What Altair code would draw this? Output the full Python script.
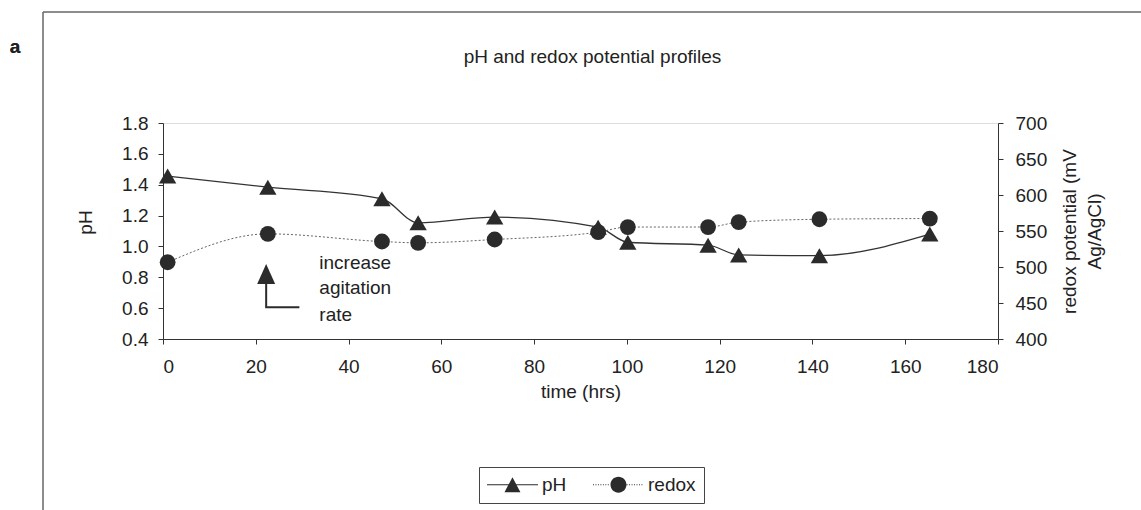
import altair as alt
import pandas as pd

# ---------------- data ----------------
time_hrs = [1.0, 22.6, 47.2, 55.0, 71.5, 93.8, 100.2, 117.5, 124.1, 141.5, 165.3]
ph_values = [1.456, 1.384, 1.309, 1.153, 1.190, 1.125, 1.027, 1.008, 0.945, 0.940, 1.080]
redox_mv = [506.6, 546.0, 535.4, 533.6, 538.2, 548.5, 555.5, 555.5, 562.3, 566.3, 567.3]

x_ticks = [0, 20, 40, 60, 80, 100, 120, 140, 160, 180]
ph_ticks = [0.4, 0.6, 0.8, 1.0, 1.2, 1.4, 1.6, 1.8]
redox_ticks = [400, 450, 500, 550, 600, 650, 700]

series_names = ["pH", "redox"]

note_lines = ["increase", "agitation", "rate"]
note_time = [33.7, 33.7, 33.7]
note_ph = [0.855, 0.692, 0.519]
arrow_head_time = [22.24]
arrow_head_ph = [0.822]
arrow_shaft_time = [22.24, 22.24, 29.4]
arrow_shaft_ph = [0.757, 0.605, 0.605]

# ---------------- styling ----------------
FONT = "Liberation Sans"
TXT = "#222222"
DARK = "#2b2b2b"
FS = 19

df = pd.DataFrame({"time": time_hrs, "pH": ph_values, "redox": redox_mv})
note_df = pd.DataFrame({"time": note_time, "pH": note_ph, "label": note_lines})
head_df = pd.DataFrame({"time": arrow_head_time, "pH": arrow_head_ph})
shaft_df = pd.DataFrame({"time": arrow_shaft_time, "pH": arrow_shaft_ph,
                         "step": list(range(len(arrow_shaft_time)))})
legend_df = pd.DataFrame({"series": series_names})

x_enc = alt.X(
    "time:Q",
    scale=alt.Scale(domain=[0, 180], nice=False, zero=False),
    axis=alt.Axis(values=x_ticks, title="time (hrs)", grid=False, tickSize=5,
                  labelPadding=13, titlePadding=6, labelFontSize=FS, titleFontSize=FS,
                  titleFontWeight="normal", labelColor=TXT, titleColor=TXT,
                  domainColor="#333", tickColor="#333", labelFont=FONT, titleFont=FONT),
)
y_ph = alt.Y(
    "pH:Q",
    scale=alt.Scale(domain=[0.4, 1.8], nice=False, zero=False),
    axis=alt.Axis(values=ph_ticks, format=".1f", title="pH", orient="left", grid=False,
                  tickSize=5, labelPadding=10, titlePadding=26, titleY=99,
                  labelFontSize=FS,
                  titleFontSize=FS, titleFontWeight="normal", labelColor=TXT,
                  titleColor=TXT, domainColor="#333", tickColor="#333",
                  labelFont=FONT, titleFont=FONT),
)
y_redox = alt.Y(
    "redox:Q",
    scale=alt.Scale(domain=[400, 700], nice=False, zero=False),
    axis=alt.Axis(values=redox_ticks, title=["redox potential (mV", "Ag/AgCl)"],
                  orient="right", grid=False, tickSize=5, labelPadding=12,
                  titlePadding=8, titleAngle=270, titleLineHeight=25,
                  labelFontSize=FS, titleFontSize=FS, titleFontWeight="normal",
                  labelColor=TXT, titleColor=TXT, domainColor="#333", tickColor="#333",
                  labelFont=FONT, titleFont=FONT),
)

base = alt.Chart(df)

ph_line = base.mark_line(interpolate="monotone", color="#333333", strokeWidth=1.3).encode(
    x=x_enc, y=y_ph)
ph_pts = base.mark_point(filled=True, shape="triangle-up", size=300, color=DARK,
                         opacity=1).encode(x=x_enc, y=y_ph)

redox_line = base.mark_line(interpolate="monotone", color="#666666", strokeWidth=1,
                            strokeDash=[2, 2]).encode(x=x_enc, y=y_redox)
redox_pts = base.mark_point(filled=True, shape="circle", size=250, color=DARK,
                            opacity=1).encode(x=x_enc, y=y_redox)

# annotation
head = alt.Chart(head_df).mark_point(filled=True, shape="M0,-1L-0.9,1L0.9,1Z", size=400,
                                     color=DARK, opacity=1).encode(x=x_enc, y=y_ph)
shaft = alt.Chart(shaft_df).mark_line(color=DARK, strokeWidth=2).encode(
    x=x_enc, y=y_ph, order="step:Q")
note = alt.Chart(note_df).mark_text(align="left", baseline="alphabetic", fontSize=FS,
                                    font=FONT, color=TXT).encode(
    x=x_enc, y=y_ph, text="label:N")


# legend symbols: (filled) line + marker, unit = 9.5 px
def rect(x1, x2, h=0.055):
    return f"M{x1:.3f},{-h}L{x2:.3f},{-h}L{x2:.3f},{h}L{x1:.3f},{h}Z"


C = 1.68
ph_symbol = (rect(-1.0, C - 0.40) + rect(C + 0.40, 4.37)
             + f"M{C},-0.79L{C + 0.84:.2f},0.79L{C - 0.84:.2f},0.79Z")
dots = []
p = -1.0
while p < C - 0.84 - 0.05:
    dots.append(rect(p, p + 0.1, 0.05))
    p += 0.26
p = C + 0.86
while p < 4.3:
    dots.append(rect(p, p + 0.1, 0.05))
    p += 0.26
R = 0.84
redox_symbol = "".join(dots) + (f"M{C + R:.2f},0A{R},{R} 0 1,1 {C - R:.2f},0"
                                f"A{R},{R} 0 1,1 {C + R:.2f},0Z")

legend_layer = alt.Chart(legend_df).mark_point(
    filled=True, size=361, opacity=0, color=DARK
).encode(
    shape=alt.Shape("series:N",
                    scale=alt.Scale(domain=series_names, range=[ph_symbol, redox_symbol]),
                    legend=alt.Legend(title=None, orient="none", legendX=316, legendY=344,
                                      direction="horizontal", strokeColor="#444",
                                      fillColor="white", padding=8, symbolSize=361,
                                      symbolOpacity=1, symbolFillColor=DARK,
                                      symbolStrokeWidth=0,
                                      labelFontSize=FS, labelFont=FONT, labelColor=TXT,
                                      labelOffset=36, columnPadding=26))
)

# outer frame and panel letter (decoration)
frame_left = alt.Chart(legend_df).mark_rule(color="#666", strokeWidth=1).encode(
    x=alt.value(-120), y=alt.value(-111), y2=alt.value(390))
frame_top = alt.Chart(legend_df).mark_rule(color="#666", strokeWidth=1).encode(
    x=alt.value(-120), x2=alt.value(990), y=alt.value(-111))
letter = alt.Chart(legend_df).mark_text(text="a", fontSize=FS, fontWeight="bold",
                                        font=FONT, color=TXT).encode(
    x=alt.value(-148), y=alt.value(-76))

left = alt.layer(frame_left, frame_top, letter, ph_line, ph_pts, head, shaft, note,
                 legend_layer)
right = alt.layer(redox_line, redox_pts)

chart = alt.layer(left, right).resolve_scale(y="independent").properties(
    width=835, height=216,
    padding={"left": 163, "top": 123, "right": 143, "bottom": 171},
    autosize=alt.AutoSizeParams(type="none"),
    title=alt.TitleParams("pH and redox potential profiles", fontSize=FS,
                          fontWeight="normal", font=FONT, color=TXT, anchor="middle",
                          offset=-74, dx=12, baseline="bottom"),
).configure_view(stroke="#999", strokeWidth=1).configure(background="white")

chart.save("out.html", embed_options={"renderer": "svg", "actions": False})
